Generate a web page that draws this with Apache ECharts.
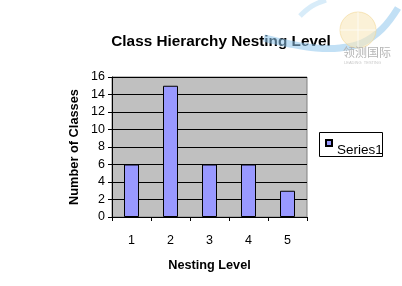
<!DOCTYPE html>
<html><head><meta charset="utf-8">
<script src="https://cdn.jsdelivr.net/npm/echarts@6/dist/echarts.min.js"></script>
<style>html,body{margin:0;padding:0;background:#fff}#c{width:402px;height:286px}</style>
</head><body><div id="c"></div>
<script>
const categories = ['1', '2', '3', '4', '5'];
const series1 = [6, 15, 6, 6, 3];
const yTicks = [0, 2, 4, 6, 8, 10, 12, 14, 16];

const chart = echarts.init(document.getElementById('c'), null, {renderer: 'canvas'});
chart.setOption({
  animation: false,
  backgroundColor: '#fff',
  title: {
    text: 'Class Hierarchy Nesting Level',
    left: 216, top: 29, textAlign: 'center',
    textStyle: {fontFamily: 'Liberation Sans', fontWeight: 'bold', fontSize: 15.3, color: '#000'}
  },
  graphic: [
    {type: 'polyline', shape: {points: [[264, 38], [290, 44], [316, 48], [340, 48], [362, 43], [382, 29], [398, 8]], smooth: 0.4}, style: {stroke: '#8fc6ec', lineWidth: 7, fill: null, opacity: 0.55}, z: 100, silent: true},
    {type: 'polyline', shape: {points: [[300, 16], [312, 6], [326, 0]], smooth: 0.4}, style: {stroke: '#a9d5f2', lineWidth: 5, fill: null, opacity: 0.45}, z: 100, silent: true},
    {type: 'circle', shape: {cx: 358, cy: 30, r: 18}, style: {fill: '#f8e7bd', stroke: '#f2d796', lineWidth: 1, opacity: 0.6}, z: 100, silent: true},
    {type: 'line', shape: {x1: 340, y1: 30, x2: 376, y2: 30}, style: {stroke: '#fff', lineWidth: 1, opacity: 0.7}, z: 101, silent: true},
    {type: 'line', shape: {x1: 358, y1: 12, x2: 358, y2: 48}, style: {stroke: '#fff', lineWidth: 1, opacity: 0.7}, z: 101, silent: true},
    {type: 'text', left: 343, top: 46, style: {text: '领测国际', fill: '#b5b5b5', font: '12px "Noto Sans CJK SC"'}, z: 101, silent: true},
    {type: 'text', left: 344, top: 61, style: {text: 'LEADING  TESTING', fill: '#c8c8c8', font: '4px "Liberation Sans"'}, z: 101, silent: true},
    {type: 'rect', shape: {x: 319.5, y: 132.5, width: 63, height: 24}, style: {fill: null, stroke: '#000', lineWidth: 1}, z: 5, silent: true}
  ],
  legend: {
    left: 320, top: 139,
    orient: 'vertical',
    padding: [0, 0, 0, 5],
    itemWidth: 6, itemHeight: 6, itemGap: 4,
    icon: 'rect',
    formatter: '{s|{name}}',
    textStyle: {
      fontFamily: 'Liberation Sans', fontSize: 13.5, color: '#000',
      rich: {s: {fontFamily: 'Liberation Sans', fontSize: 13.5, color: '#000', padding: [14, 0, 0, 0]}}
    },
    data: ['Series1']
  },
  grid: {left: 112, top: 77, width: 195, height: 140, show: true, backgroundColor: '#c0c0c0', borderColor: '#808080', borderWidth: 1},
  xAxis: {
    type: 'category', data: categories,
    name: 'Nesting Level', nameLocation: 'middle', nameGap: 42,
    nameTextStyle: {fontFamily: 'Liberation Sans', fontWeight: 'bold', fontSize: 12.7, color: '#000'},
    axisLine: {lineStyle: {color: '#000'}},
    axisTick: {show: true, alignWithLabel: false, length: 4, lineStyle: {color: '#000'}},
    axisLabel: {fontFamily: 'Liberation Sans', fontSize: 12.5, color: '#000', margin: 17}
  },
  yAxis: {
    type: 'value', min: 0, max: 16, interval: 2,
    name: 'Number of Classes', nameLocation: 'middle', nameGap: 31, nameRotate: 90,
    nameTextStyle: {fontFamily: 'Liberation Sans', fontWeight: 'bold', fontSize: 12.8, color: '#000'},
    axisLine: {show: true, lineStyle: {color: '#000'}},
    axisTick: {show: true, length: 4, lineStyle: {color: '#000'}},
    axisLabel: {fontFamily: 'Liberation Sans', fontSize: 12.5, color: '#000', margin: 7},
    splitLine: {show: true, lineStyle: {color: '#000', width: 1}}
  },
  series: [{
    name: 'Series1', type: 'bar', data: series1,
    barWidth: 15, barGap: 0,
    itemStyle: {color: '#9999ff', borderColor: '#000', borderWidth: 1}
  }]
});
</script></body></html>
